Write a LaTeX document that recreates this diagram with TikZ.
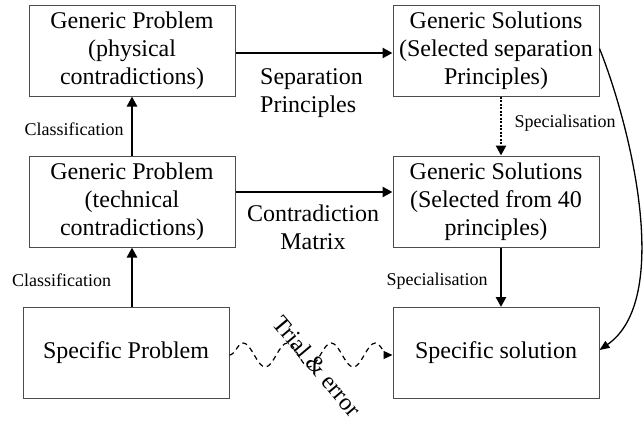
\documentclass[tikz,border=0pt]{standalone}
\usepackage{fontspec}
\setmainfont{Liberation Serif}
\usetikzlibrary{arrows.meta,decorations.pathmorphing}
\begin{document}
\begin{tikzpicture}[x=1pt,y=-1pt,
 box/.style={draw=black!70,line width=1pt,minimum width=206pt,minimum height=91pt,inner sep=0pt,align=center,font=\fontsize{24}{28}\selectfont},
 lbl/.style={font=\fontsize{18}{21}\selectfont,inner sep=0pt},
 big/.style={font=\fontsize{24}{28}\selectfont,inner sep=0pt},
 arr/.style={line width=2.5pt,-{Triangle[length=10pt,width=10pt]}}]
\useasboundingbox (0,0) rectangle (643,421);
\node[box] (TL) at (132,50.5) {Generic Problem\\(physical\\contradictions)};
\node[box] (TR) at (496,50.5) {Generic Solutions\\(Selected separation\\Principles)};
\node[box] (ML) at (132,201.5) {Generic Problem\\(technical\\contradictions)};
\node[box] (MR) at (496,201.5) {Generic Solutions\\(Selected from 40\\principles)};
\node[box] (BL) at (126,353) {Specific Problem};
\node[box] (BR) at (496,353) {Specific solution};
% arrows
\draw[arr] ([yshift=-2.5pt]TL.east) -- ([yshift=-2.5pt]TR.west);
\draw[arr] ([yshift=9.5pt]ML.east) -- ([yshift=9.5pt]MR.west);
\draw[arr] (ML.north) -- (TL.south);
\draw[arr] (BL.north -| ML.south) -- (ML.south);
\draw[arr,dash pattern=on 2pt off 1.5pt] ([xshift=5pt]TR.south) -- ([xshift=5pt]MR.north);
\draw[arr] ([xshift=5pt]MR.south) -- ([xshift=5pt]BR.north);
\draw[line width=1.3pt,-{Triangle[length=10pt,width=8pt]}] ([yshift=2pt]TR.east) .. controls (632,130) and (672,300) .. ([yshift=3pt]BR.east);
\draw[line width=1.2pt,dash pattern=on 5pt off 4pt,decorate,decoration={snake,amplitude=12pt,segment length=44pt,post length=3pt},-{Triangle[length=9pt,width=8pt]}] ([yshift=-2pt]BL.east) -- ([yshift=-2pt]BR.west);
% labels
\node[lbl] (c1) at (74,129) {Classification};
\node[lbl] (c2) at (61.5,280) {Classification};
\node[lbl] (s1) at (565,123) {Specialisation};
\node[lbl] (s2) at (437,281) {Specialisation};
\node[big,align=left,anchor=west] (sep) at (260,93.5) {Separation\\Principles};
\node[big,align=center] (cm) at (313,227) {Contradiction\\Matrix};
\node[big,rotate=-50] (trial) at (317,366) {Trial \& error};
\end{tikzpicture}
\end{document}
